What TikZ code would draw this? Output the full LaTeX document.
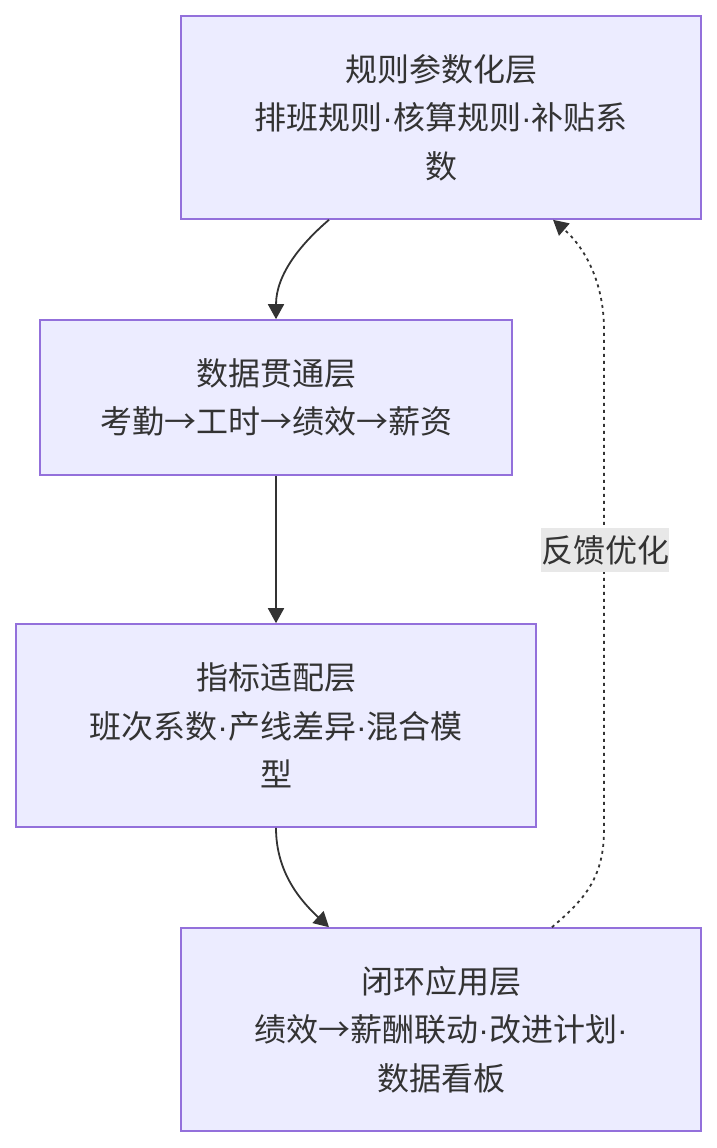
\documentclass[tikz,border=0pt]{standalone}
\usepackage{fontspec}
\setmainfont{Noto Sans CJK SC}
\newfontfamily\latf{Liberation Sans}
\newcommand{\md}{{\latf ·}}
\usetikzlibrary{arrows.meta,calc}
\definecolor{boxfill}{HTML}{ECECFF}
\definecolor{boxline}{HTML}{9370DB}
\definecolor{ink}{HTML}{333333}
\definecolor{lblbg}{HTML}{E8E8E8}
\begin{document}
\begin{tikzpicture}[x=1pt,y=-1pt,
  layer/.style={draw=boxline,line width=1.6pt,fill=boxfill,text=ink,align=center,
    font=\fontsize{32}{48.5}\selectfont,inner sep=0pt},
  flow/.style={draw=ink,line width=1.8pt,-{Triangle[length=15pt,width=16pt]}},
  back/.style={draw=ink,line width=1.8pt,dash pattern=on 3pt off 4pt,-{Triangle[length=15pt,width=16pt]}},
  lbl/.style={fill=lblbg,text=ink,font=\fontsize{32}{36}\selectfont,inner xsep=0pt,inner ysep=7pt}]
\useasboundingbox (0,0) rectangle (717,1148);
\node[layer,minimum width=520pt,minimum height=203pt] (b1) at (441,117.5) {规则参数化层\\排班规则\md 核算规则\md 补贴系\\数};
\node[layer,minimum width=472pt,minimum height=155pt] (b2) at (276,397.5) {数据贯通层\\考勤→工时→绩效→薪资};
\node[layer,minimum width=520pt,minimum height=203pt] (b3) at (276,725.5) {指标适配层\\班次系数\md 产线差异\md 混合模\\型};
\node[layer,minimum width=520pt,minimum height=203pt] (b4) at (441,1029.5) {闭环应用层\\绩效→薪酬联动\md 改进计划\md\\数据看板};
\draw[flow] ([xshift=-112pt]b1.south) .. controls +(-28,24) and +(0,-45) .. (b2.north);
\draw[flow] (b2.south) -- (b3.north);
\draw[flow] (b3.south) .. controls +(0,45) and +(-28,-26) .. ([xshift=-112pt]b4.north);
\coordinate (c1) at (604,830);
\coordinate (c2) at (604,330);
\draw[back] ([xshift=111pt]b4.north) .. controls +(30,-26) and +(0,50) .. (c1) -- (c2) .. controls +(0,-50) and +(30,26) .. ([xshift=112pt]b1.south);
\node[lbl] (fb) at (605,550) {反馈优化};
\end{tikzpicture}
\end{document}
